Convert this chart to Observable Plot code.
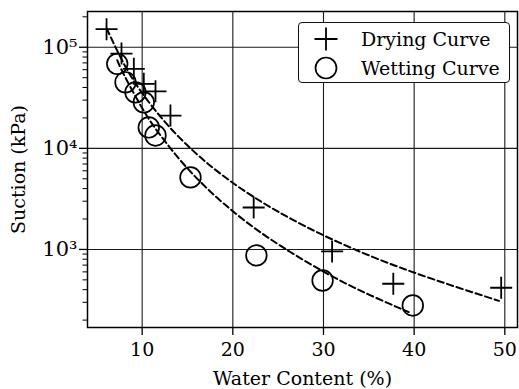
<!DOCTYPE html>
<html>
<head>
<meta charset="utf-8">
<script src="https://cdn.jsdelivr.net/npm/d3@7"></script>
<script src="https://cdn.jsdelivr.net/npm/@observablehq/plot@0.6"></script>
<style>
  body { margin: 0; background: #fff; }
  #chart { position: relative; width: 519px; height: 389px; font-family: "DejaVu Serif", serif; }
  #chart > svg { position: absolute; left: 0; top: 0; }
  .legend {
    position: absolute; left: 298px; top: 22px; width: 212px; height: 61px;
    border: 1.2px solid #111; border-radius: 4px; background: #fff; box-sizing: border-box;
  }
  .legend .row { position: absolute; left: 0; height: 28px; width: 100%; }
  .legend .row span { position: absolute; left: 62px; top: 2px; font-size: 19px; line-height: 22px; white-space: nowrap; color: #000; }
  .legend .row svg.marker { position: absolute; left: 14px; top: 0px; }
</style>
</head>
<body>
<div id="chart"></div>
<script>
// Measured points (water content %, suction kPa)
const dryingWater   = [6.07, 7.72, 9.08, 10.18, 11.47, 13.12, 22.3, 30.95, 37.7, 49.6];
const dryingSuction = [151000, 86600, 61100, 43500, 36600, 21100, 2600, 955, 458, 418];
const wettingWater   = [7.25, 8.16, 9.26, 10.18, 10.73, 11.47, 15.33, 22.6, 29.9, 39.85];
const wettingSuction = [68500, 45000, 35800, 28500, 16100, 13400, 5160, 873, 493, 279];

// Fitted retention curves, sampled along each dashed line
const dryingFitWater   = [6.07, 8, 10, 13, 17, 22, 28, 35, 42, 49.35];
const dryingFitSuction = [154000, 68100, 35200, 16300, 7360, 3440, 1690, 874, 511, 310];
const wettingFitWater   = [7.25, 8, 10, 12, 15, 19, 24, 30, 35, 39.4];
const wettingFitSuction = [74500, 53300, 25000, 13500, 6330, 2840, 1290, 604, 358, 240];

// Axes
const xTicks = [10, 20, 30, 40, 50];
const yTicks = [1e3, 1e4, 1e5];
const yTickLabels = ["10³", "10⁴", "10⁵"];
const seriesNames = ["Drying Curve", "Wetting Curve"];
const xLabel = "Water Content (%)";
const yLabel = "Suction (kPa)";

const rows = (xs, ys) => xs.map((x, i) => ({x, y: ys[i]}));
const drying = rows(dryingWater, dryingSuction);
const wetting = rows(wettingWater, wettingSuction);
const dryingFit = rows(dryingFitWater, dryingFitSuction);
const wettingFit = rows(wettingFitWater, wettingFitSuction);

// Log minor ticks: 2..9 within each decade
const yDomain = [169, 225700];
const minorTicks = [];
for (const dec of [1e2, 1e3, 1e4, 1e5]) {
  for (let m = 2; m <= 9; m++) {
    const v = m * dec;
    if (v >= yDomain[0] && v <= yDomain[1]) minorTicks.push(v);
  }
}

// Stroked "+" marker whose arm length equals r
const plusSymbol = {
  draw(ctx, size) {
    const r = Math.sqrt(size / Math.PI);
    ctx.moveTo(-r, 0); ctx.lineTo(r, 0);
    ctx.moveTo(0, -r); ctx.lineTo(0, r);
  }
};

const dash = "6.5,3.5";
const fontSize = 19;

const plot = Plot.plot({
  width: 519,
  height: 389,
  marginLeft: 87,
  marginRight: 2,
  marginTop: 11,
  marginBottom: 62,
  style: {fontFamily: '"DejaVu Serif", serif', fontSize: `${fontSize}px`, color: "#000", background: "transparent", overflow: "visible"},
  x: {domain: [3.97, 51.4]},
  y: {type: "log", domain: yDomain},
  marks: [
    Plot.gridX(xTicks, {stroke: "#1a1a1a", strokeOpacity: 1, strokeWidth: 1.1}),
    Plot.gridY(yTicks, {stroke: "#1a1a1a", strokeOpacity: 1, strokeWidth: 1.1}),
    Plot.axisY(minorTicks, {tickSize: 4.5, strokeWidth: 1, tickFormat: () => "", label: null}),
    Plot.axisY(yTicks, {
      tickSize: 8, tickPadding: 2, strokeWidth: 1.3, fontSize: 21,
      tickFormat: (d) => yTickLabels[yTicks.indexOf(d)],
      label: null
    }),
    Plot.axisY(yTicks, {
      tickSize: 0, fontSize, tickFormat: () => "",
      label: yLabel, labelAnchor: "center", labelArrow: "none", labelOffset: 76
    }),
    Plot.axisX(xTicks, {
      tickSize: 8, tickPadding: 7, strokeWidth: 1.3, fontSize,
      label: xLabel, labelAnchor: "center", labelArrow: "none", labelOffset: 57
    }),
    Plot.frame({stroke: "#000", strokeWidth: 1.5}),
    Plot.line(dryingFit, {x: "x", y: "y", stroke: "#000", strokeWidth: 2, strokeDasharray: dash, curve: "natural"}),
    Plot.line(wettingFit, {x: "x", y: "y", stroke: "#000", strokeWidth: 2, strokeDasharray: dash, curve: "natural"}),
    Plot.dot(wetting, {x: "x", y: "y", r: 10.3, stroke: "#000", strokeWidth: 1.7, fill: "none"}),
    Plot.dot(drying, {x: "x", y: "y", r: 11, symbol: plusSymbol, stroke: "#000", strokeWidth: 1.8})
  ]
});

const chart = document.getElementById("chart");
chart.appendChild(plot);

// Legend box
const legend = d3.select(chart).append("div").attr("class", "legend");
const markers = [
  {symbol: plusSymbol, r: 11.5, width: 1.8},
  {symbol: d3.symbolCircle, r: 10.5, width: 1.7}
];
seriesNames.forEach((name, i) => {
  const row = legend.append("div").attr("class", "row").style("top", `${3 + i * 28.5}px`);
  const svg = row.append("svg").attr("class", "marker").attr("width", 26).attr("height", 26);
  const m = markers[i];
  svg.append("path")
    .attr("transform", "translate(13,13)")
    .attr("d", d3.symbol(m.symbol, m.r * m.r * Math.PI)())
    .attr("fill", "none").attr("stroke", "#000").attr("stroke-width", m.width);
  row.append("span").text(name);
});
</script>
</body>
</html>
